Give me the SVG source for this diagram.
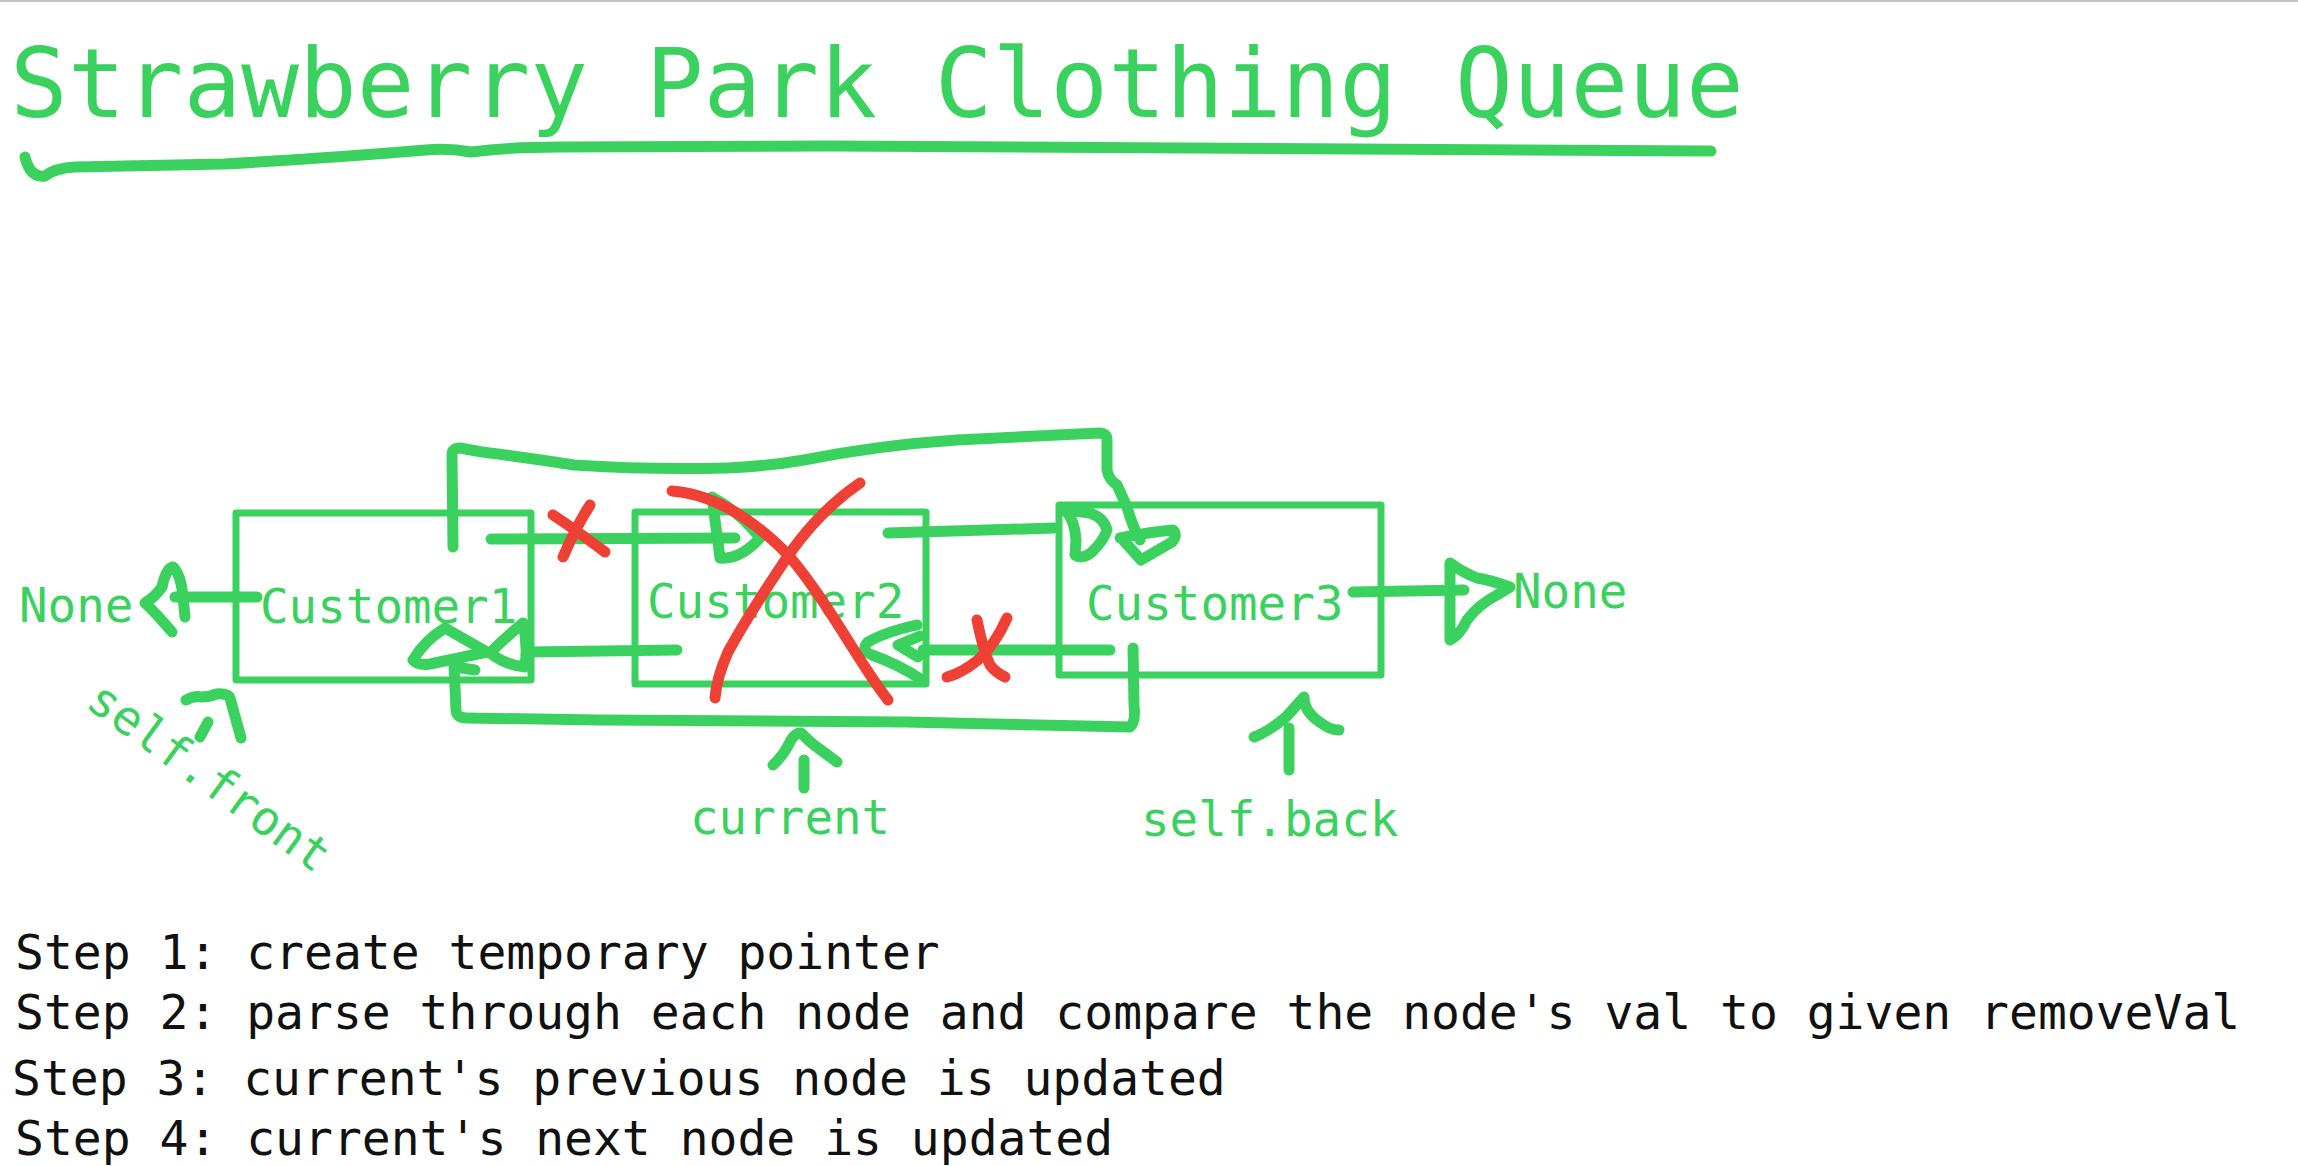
<svg xmlns="http://www.w3.org/2000/svg" width="2298" height="1166" viewBox="0 0 2298 1166">
<style>
.bg{fill:#ffffff}
.g{fill:none;stroke:#3bd15f;stroke-width:11;stroke-linecap:round;stroke-linejoin:round}
.r{fill:none;stroke:#ee4035;stroke-width:11;stroke-linecap:round;stroke-linejoin:round}
.box{fill:none;stroke:#3bd15f;stroke-width:7;stroke-linejoin:round}
.gt{fill:#3bd15f;font-family:"DejaVu Sans Mono","Liberation Mono",monospace;font-size:47.5px}
.title{fill:#3bd15f;font-family:"DejaVu Sans Mono","Liberation Mono",monospace;font-size:96px}
.step{fill:#111111;font-family:"DejaVu Sans Mono","Liberation Mono",monospace;font-size:48px}
</style>
<rect class="bg" x="0" y="0" width="2298" height="1166"/>
<line x1="0" y1="1" x2="2298" y2="1" stroke="#c4c4c4" stroke-width="2"/>

<g id="title">
<text class="title" x="10" y="117">Strawberry Park Clothing Queue</text>
<path class="g" d="M25,157 Q30,178 45,176 Q55,168 75,167 L224,164 Q330,158 426,150 Q450,148 471,152 Q510,147 561,147 L830,146 L1711,151"/>
</g>

<g id="customer1">
<rect class="box" x="236" y="513" width="295" height="167"/>
<text class="gt" x="260" y="623">Customer1</text>
</g>
<g id="customer2">
<rect class="box" x="635" y="512" width="291" height="172"/>
<text class="gt" x="647" y="618">Customer2</text>
</g>
<g id="customer3">
<rect class="box" x="1059" y="505" width="322" height="170"/>
<text class="gt" x="1086" y="620">Customer3</text>
</g>
<g id="none-left">
<text class="gt" x="19" y="622">None</text>
</g>
<g id="none-right">
<text class="gt" x="1513" y="608">None</text>
</g>
<g id="self-front">
<text class="gt" transform="translate(84,706) rotate(36)">self.front</text>
</g>
<g id="current">
<text class="gt" x="690" y="834">current</text>
</g>
<g id="self-back">
<text class="gt" x="1141" y="836">self.back</text>
</g>

<g id="connectors">
<!-- top: Customer1 next -> Customer3 -->
<path class="g" d="M453,547 L452,455 Q452,448 460,448 L482,452 Q530,458 574,465 Q650,470 727,468 Q770,466 804,460 Q880,445 957,440 L1099,433 Q1107,433 1107,440 L1107,470 Q1109,480 1117,485 L1127,507 Q1132,525 1140,540"/>
<path class="g" d="M1120,538 Q1150,532 1173,530 Q1178,535 1172,542 L1141,560 L1124,541"/>
<!-- Customer1 -> Customer2 -->
<path class="g" d="M491,539 L735,538"/>
<path class="g" d="M712,497 L720,558 Q740,560 760,538 Q740,512 712,497 Z"/>
<!-- Customer2 -> Customer3 -->
<path class="g" d="M888,533 L1054,528"/>
<path class="g" d="M1065,510 Q1075,520 1076,540 L1075,555 Q1082,560 1092,552 Q1104,540 1107,530 Q1104,518 1090,513 Z"/>
<!-- Customer3 -> Customer2 (prev) -->
<path class="g" d="M1110,650 L923,650"/>
<path class="g" d="M917,625 Q885,632 868,642 Q860,650 872,655 Q900,665 922,680 M920,636 L898,645 L918,657"/>
<!-- Customer2 -> Customer1 (prev) -->
<path class="g" d="M677,650 L527,652"/>
<path class="g" d="M523,623 Q528,645 525,667 Q505,665 490,653 Q505,638 523,623 Z"/>
<!-- bottom: Customer3 prev -> Customer1 -->
<path class="g" d="M1133,648 L1134,705 Q1136,722 1130,727 L906,722 L600,720 L467,718 Q456,718 456,710 L454,665"/>
<path class="g" d="M487,652 L445,628 Q425,640 413,660 Q418,666 430,664 L487,652 M455,667 L475,670"/>
<!-- None pointers -->
<path class="g" d="M257,597 L175,597"/>
<path class="g" d="M185,617 L183,597 Q181,575 173,567 Q166,568 162,587 Q155,597 145,603 Q155,612 172,632"/>
<path class="g" d="M1353,592 L1464,590"/>
<path class="g" d="M1450,563 L1450,640 Q1460,635 1467,620 Q1478,605 1497,595 L1510,587 Q1490,580 1477,578 Q1462,572 1450,563 Z"/>
<!-- label pointers -->
<path class="g" d="M186,700 Q195,695 202,697 Q210,697 216,694 Q228,693 230,698 L241,738 M208,722 L200,737"/>
<path class="g" d="M773,765 Q784,755 791,740 Q795,733 801,733 Q808,740 814,745 L837,762 M804,760 L804,788"/>
<path class="g" d="M1254,737 Q1268,732 1286,717 L1304,697 Q1304,712 1321,723 Q1330,730 1339,730 M1289,728 L1289,770"/>
<!-- red crossings -->
<path class="r" d="M553,515 Q573,528 605,552 M590,505 Q577,525 563,557"/>
<path class="r" d="M672,491 C710,494 750,515 790,557 C830,605 860,665 888,700"/>
<path class="r" d="M860,483 C835,500 810,525 790,553 C765,590 740,630 728,652 C720,670 716,685 715,698"/>
<path class="r" d="M977,620 Q983,650 990,665 Q995,672 1005,677 M1007,618 Q995,645 978,660 Q962,673 947,677"/>
</g>

<g id="steps">
<text class="step" x="15" y="969">Step 1: create temporary pointer</text>
<text class="step" x="15" y="1029">Step 2: parse through each node and compare the node's val to given removeVal</text>
<text class="step" x="12" y="1095">Step 3: current's previous node is updated</text>
<text class="step" x="15" y="1155">Step 4: current's next node is updated</text>
</g>
</svg>
